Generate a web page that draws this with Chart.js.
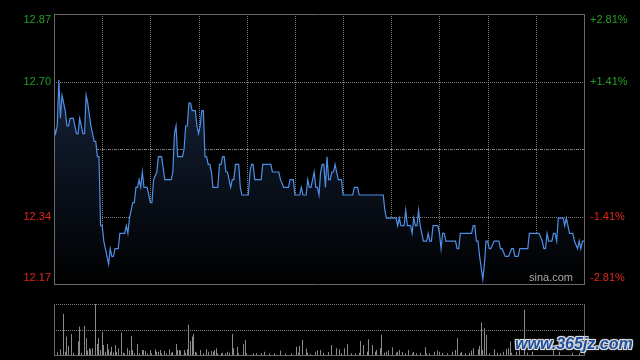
<!DOCTYPE html>
<html>
<head>
<meta charset="utf-8">
<script src="https://cdn.jsdelivr.net/npm/chart.js@4"></script>
<style>
	html, body { margin: 0; padding: 0; background: #000; }
	#wrap { position: relative; width: 640px; height: 360px; overflow: hidden; background: #000; }
	#price { position: absolute; left: 0; top: 0; }
	#vol { position: absolute; left: 0; top: 290px; }
	#mark {
		position: absolute; left: 515px; top: 335px;
		font: italic bold 16px "Liberation Sans", Arial, sans-serif;
		line-height: 18px; color: #1f4f9d; letter-spacing: 0px;
		text-shadow: 1px 1px 0 #ddd, -1px -1px 0 #ddd, 1px -1px 0 #ddd, -1px 1px 0 #ddd, 0 0 3px #fff;
	}
</style>
</head>
<body>
<div id="wrap">
	<canvas id="price" width="640" height="290"></canvas>
	<canvas id="vol" width="640" height="70"></canvas>
	<div id="mark">www.365jz.com</div>
</div>
<script>
	// minute of the session (HK: 09:30-12:00, 13:00-16:00 -> 330 minutes)
	var minutes = [
		0, 1, 2, 3, 4, 5, 7, 8, 9, 10,
		12, 14, 15, 16, 17, 18, 19, 20, 21, 23,
		24, 25, 26, 27, 28, 29, 30, 31, 33, 34,
		35, 36, 37, 38, 40, 41, 44, 45, 46, 47,
		49, 50, 51, 52, 53, 54, 55, 56, 58, 60,
		61, 62, 64, 65, 67, 69, 73, 74, 75, 76,
		77, 80, 81, 82, 83, 84, 85, 86, 88, 89,
		90, 91, 92, 93, 94, 95, 96, 97, 98, 99,
		102, 103, 104, 105, 106, 107, 108, 109, 110, 111,
		112, 113, 115, 116, 117, 121, 122, 123, 124, 125,
		129, 130, 135, 136, 140, 141, 143, 146, 147, 149,
		150, 153, 154, 155, 157, 158, 159, 160, 162, 163,
		164, 165, 166, 167, 168, 169, 170, 171, 172, 173,
		174, 175, 176, 177, 179, 180, 186, 187, 189, 190,
		205, 206, 207, 213, 214, 215, 216, 218, 219, 220,
		222, 223, 224, 225, 226, 227, 228, 230, 232, 233,
		234, 235, 236, 239, 240, 241, 242, 243, 244, 250,
		251, 252, 253, 260, 261, 262, 263, 264, 265, 267,
		268, 269, 270, 271, 272, 274, 277, 278, 279, 281,
		283, 285, 286, 287, 289, 290, 295, 296, 302, 304,
		305, 306, 307, 308, 310, 311, 312, 313, 314, 317,
		318, 319, 321, 323, 324, 326, 327, 328, 329, 330
	];
	var prices = [
		12.58, 12.56, 12.58, 12.70, 12.60, 12.66, 12.62, 12.58, 12.58, 12.60,
		12.60, 12.56, 12.56, 12.60, 12.58, 12.56, 12.56, 12.66, 12.64, 12.58,
		12.56, 12.54, 12.54, 12.50, 12.50, 12.32, 12.32, 12.28, 12.24, 12.22,
		12.26, 12.24, 12.24, 12.26, 12.26, 12.30, 12.30, 12.32, 12.30, 12.34,
		12.38, 12.38, 12.42, 12.42, 12.44, 12.42, 12.46, 12.42, 12.42, 12.38,
		12.38, 12.44, 12.46, 12.50, 12.50, 12.44, 12.44, 12.46, 12.56, 12.58,
		12.50, 12.50, 12.52, 12.58, 12.58, 12.64, 12.64, 12.62, 12.62, 12.58,
		12.56, 12.58, 12.62, 12.62, 12.50, 12.50, 12.48, 12.48, 12.46, 12.42,
		12.42, 12.48, 12.48, 12.50, 12.50, 12.46, 12.46, 12.44, 12.42, 12.44,
		12.44, 12.48, 12.48, 12.42, 12.40, 12.40, 12.46, 12.48, 12.48, 12.44,
		12.44, 12.48, 12.48, 12.46, 12.46, 12.44, 12.42, 12.42, 12.44, 12.44,
		12.40, 12.40, 12.42, 12.40, 12.40, 12.44, 12.42, 12.42, 12.46, 12.42,
		12.42, 12.40, 12.46, 12.48, 12.48, 12.42, 12.50, 12.44, 12.44, 12.46,
		12.46, 12.48, 12.46, 12.44, 12.44, 12.40, 12.40, 12.42, 12.42, 12.40,
		12.40, 12.36, 12.34, 12.34, 12.32, 12.34, 12.32, 12.32, 12.36, 12.32,
		12.32, 12.30, 12.34, 12.32, 12.32, 12.36, 12.32, 12.28, 12.28, 12.30,
		12.28, 12.28, 12.32, 12.32, 12.30, 12.26, 12.30, 12.30, 12.28, 12.28,
		12.26, 12.26, 12.30, 12.30, 12.32, 12.32, 12.28, 12.28, 12.24, 12.18,
		12.22, 12.28, 12.28, 12.26, 12.26, 12.28, 12.28, 12.26, 12.26, 12.24,
		12.24, 12.26, 12.26, 12.24, 12.24, 12.26, 12.26, 12.30, 12.30, 12.28,
		12.26, 12.26, 12.30, 12.28, 12.28, 12.30, 12.30, 12.28, 12.34, 12.34,
		12.32, 12.34, 12.30, 12.30, 12.28, 12.26, 12.28, 12.26, 12.28, 12.28
	];

	// volume, relative to the biggest minute (= 100)
	var volMinutes = [
		2, 4, 6, 7, 8, 9, 11, 12, 15, 16,
		17, 19, 20, 21, 22, 23, 24, 26, 27, 28,
		29, 30, 31, 32, 33, 34, 35, 36, 37, 38,
		39, 40, 42, 43, 44, 46, 47, 48, 49, 50,
		52, 53, 55, 56, 57, 58, 60, 61, 63, 64,
		65, 66, 67, 69, 70, 72, 73, 74, 76, 77,
		78, 79, 81, 82, 83, 84, 85, 86, 87, 88,
		89, 91, 93, 95, 96, 98, 99, 100, 101, 102,
		104, 105, 107, 108, 109, 111, 112, 114, 115, 118,
		119, 120, 124, 126, 129, 131, 134, 137, 141, 144,
		148, 151, 152, 153, 155, 157, 158, 160, 163, 164,
		166, 168, 171, 173, 176, 178, 179, 181, 183, 185,
		188, 190, 191, 193, 195, 196, 198, 200, 201, 203,
		204, 206, 207, 208, 211, 213, 214, 215, 217, 219,
		221, 223, 224, 226, 228, 231, 232, 234, 237, 239,
		240, 242, 245, 248, 250, 251, 253, 254, 256, 259,
		260, 261, 264, 265, 266, 267, 268, 269, 271, 274,
		276, 278, 280, 282, 283, 284, 285, 288, 290, 293,
		295, 298, 311, 315, 323, 327
	];
	var volumes = [
		6.6, 11.2, 80.9, 6.6, 36.2, 17.8, 41.4, 4.6, 26.3, 55.9,
		4.6, 57.2, 32.9, 8.6, 13.2, 11.2, 13.2, 100, 21.7, 32.9,
		9.9, 45.4, 19.7, 6.6, 21.7, 11.2, 6.6, 16.4, 4.6, 19.7,
		6.6, 13.2, 44.1, 4.6, 3.3, 13.2, 8.6, 37.5, 9.9, 3.3,
		21.7, 3.3, 9.9, 9.9, 7.9, 3.3, 9.9, 3.3, 11.2, 6.6,
		6.6, 9.9, 3.3, 7.9, 3.3, 11.2, 4.6, 6.6, 21.7, 9.9,
		9.9, 8.6, 9.9, 4.6, 11.2, 59.2, 27.6, 36.2, 41.4, 6.6,
		4.6, 9.9, 3.3, 11.2, 6.6, 7.9, 6.6, 9.9, 13.2, 3.3,
		3.3, 4.6, 3.3, 6.6, 4.6, 41.4, 13.2, 16.4, 3.3, 21.7,
		29.6, 3.3, 3.3, 3.3, 3.3, 6.6, 3.3, 3.3, 8.6, 3.3,
		3.3, 16.4, 4.6, 17.8, 29.6, 12.5, 4.6, 2, 6.6, 8.6,
		9.9, 4.6, 5.9, 19.7, 13.2, 11.2, 3.3, 13.2, 21.7, 3.3,
		3.3, 4.6, 27.6, 19.7, 6.6, 30.9, 19.7, 6.6, 9.9, 13.2,
		39.5, 4.6, 6.6, 8.6, 15.1, 4.6, 6.6, 9.9, 5.9, 3.3,
		9.9, 3.3, 5.9, 3.3, 4.6, 15.1, 3.3, 3.3, 6.6, 8.6,
		6.6, 4.6, 3.3, 6.6, 9.9, 32.9, 3.3, 6.6, 3.3, 4.6,
		8.6, 13.2, 11.2, 17.8, 63.8, 9.9, 52.6, 39.5, 3.3, 11.2,
		4.6, 3.3, 6.6, 11.2, 13.2, 26.3, 4.6, 6.6, 8.6, 88.8,
		4.6, 6.6, 8.6, 6.6, 4.6, 3.3
	];

	var preClose = 12.52;
	var priceTicks = [12.872, 12.696, 12.344, 12.168];
	var priceLabels = ['12.87', '12.70', '12.34', '12.17'];
	var pctLabels = ['+2.81%', '+1.41%', '-1.41%', '-2.81%'];
	var timeGrid = [30, 60, 90, 120, 150, 180, 210, 240, 270, 300];

	var UP = '#22a022', DOWN = '#e0261e', FRAME = '#6a6a6a', GRID = '#7a7a7a';

	function hline(ctx, x1, x2, y){
		y = Math.round(y) + 0.5;
		ctx.beginPath(); ctx.moveTo(x1, y); ctx.lineTo(x2, y); ctx.stroke();
	}
	function vline(ctx, x, y1, y2){
		x = Math.round(x) + 0.5;
		ctx.beginPath(); ctx.moveTo(x, y1); ctx.lineTo(x, y2); ctx.stroke();
	}

	var priceFrame = {
		id: 'priceFrame',
		beforeDatasetsDraw: function(chart){
			var ctx = chart.ctx, a = chart.chartArea;
			var x = chart.scales.x, y = chart.scales.y;
			ctx.save();
			ctx.lineWidth = 1;
			ctx.strokeStyle = GRID;
			ctx.setLineDash([1, 1]);
			timeGrid.forEach(function(m){
				vline(ctx, x.getPixelForValue(m), a.top, a.bottom);
			});
			hline(ctx, a.left, a.right, y.getPixelForValue(priceTicks[1]));
			hline(ctx, a.left, a.right, y.getPixelForValue(priceTicks[2]));
			ctx.setLineDash([3, 1, 1, 1]);
			hline(ctx, a.left, a.right, y.getPixelForValue(preClose));
			ctx.restore();
		},
		afterDraw: function(chart){
			var ctx = chart.ctx, a = chart.chartArea, y = chart.scales.y;
			ctx.save();
			ctx.lineWidth = 1;
			ctx.strokeStyle = FRAME;
			hline(ctx, a.left, a.right + 1, a.top);
			hline(ctx, a.left, a.right + 1, a.bottom);
			vline(ctx, a.left, a.top, a.bottom + 1);
			vline(ctx, a.right, a.top, a.bottom + 1);

			ctx.font = '11px "Liberation Sans", Arial, sans-serif';
			ctx.textBaseline = 'middle';
			priceTicks.forEach(function(v, i){
				var py = y.getPixelForValue(v);
				if (i === 0) py = a.top + 6;
				if (i === priceTicks.length - 1) py = a.bottom - 6;
				ctx.fillStyle = v > preClose ? UP : DOWN;
				ctx.textAlign = 'right';
				ctx.fillText(priceLabels[i], a.left - 3, py);
				ctx.textAlign = 'left';
				ctx.fillText(pctLabels[i], a.right + 6, py);
			});

			ctx.fillStyle = '#a8a8a8';
			ctx.textAlign = 'right';
			ctx.fillText('sina.com', a.right - 11, a.bottom - 6);
			ctx.restore();
		}
	};

	var volFrame = {
		id: 'volFrame',
		beforeDatasetsDraw: function(chart){
			var ctx = chart.ctx, a = chart.chartArea, y = chart.scales.y;
			// snap the 1px bars onto whole pixels so they stay crisp
			chart.getDatasetMeta(0).data.forEach(function(bar){
				bar.x = Math.floor(bar.x) + 0.5;
			});
			ctx.save();
			ctx.lineWidth = 1;
			ctx.strokeStyle = GRID;
			ctx.setLineDash([1, 1]);
			hline(ctx, a.left, a.right, a.top);
			hline(ctx, a.left, a.right, y.getPixelForValue(50));
			ctx.restore();
		},
		afterDraw: function(chart){
			var ctx = chart.ctx, a = chart.chartArea;
			ctx.save();
			ctx.lineWidth = 1;
			ctx.strokeStyle = FRAME;
			vline(ctx, a.left, a.top, a.bottom + 1);
			vline(ctx, a.right, a.top, a.bottom + 1);
			hline(ctx, a.left, a.right + 1, a.bottom);
			ctx.restore();
		}
	};

	function areaFill(context){
		var a = context.chart.chartArea;
		if (!a) return 'rgba(0,0,0,0)';
		var g = context.chart.ctx.createLinearGradient(0, a.top, 0, a.bottom);
		g.addColorStop(0, '#1b2d4a');
		g.addColorStop(1, '#000000');
		return g;
	}

	new Chart(document.getElementById('price'), {
		type: 'line',
		data: {
			datasets: [{
				data: minutes.map(function(m, i){ return { x: m, y: prices[i] }; }),
				borderColor: '#4f8fe6',
				borderWidth: 1.2,
				pointRadius: 0,
				tension: 0,
				fill: 'start',
				backgroundColor: areaFill
			}]
		},
		options: {
			responsive: false,
			animation: false,
			events: [],
			layout: { padding: { left: 54, right: 56, top: 14, bottom: 6 } },
			plugins: { legend: { display: false }, tooltip: { enabled: false } },
			scales: {
				x: { type: 'linear', min: 0, max: 330, display: false },
				y: { type: 'linear', min: priceTicks[3], max: priceTicks[0], display: false }
			}
		},
		plugins: [priceFrame]
	});

	new Chart(document.getElementById('vol'), {
		type: 'bar',
		data: {
			datasets: [{
				data: volMinutes.map(function(m, i){ return { x: m, y: volumes[i] }; }),
				backgroundColor: '#8a8a8a',
				borderWidth: 0,
				inflateAmount: 0,
				barThickness: 1
			}]
		},
		options: {
			responsive: false,
			animation: false,
			events: [],
			layout: { padding: { left: 54, right: 56, top: 14, bottom: 5 } },
			plugins: { legend: { display: false }, tooltip: { enabled: false } },
			scales: {
				x: { type: 'linear', min: 0, max: 330, offset: false, display: false },
				y: { type: 'linear', min: 0, max: 100, display: false }
			}
		},
		plugins: [volFrame]
	});
</script>
</body>
</html>
